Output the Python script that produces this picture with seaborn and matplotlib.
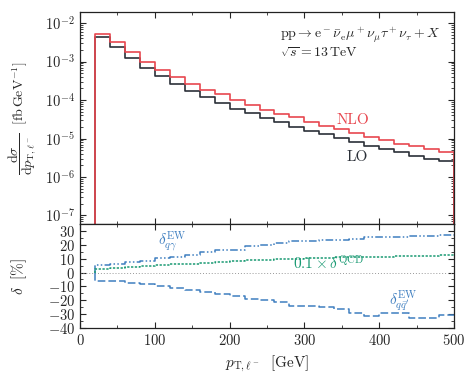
import numpy as np
import matplotlib
matplotlib.use("Agg")
import matplotlib.pyplot as plt
import seaborn as sns
from matplotlib.ticker import MultipleLocator, LogLocator, NullFormatter

# lower bin edges (GeV), 20 GeV bins from 20 to 500
pt_lo_edges = [20, 40, 60, 80, 100, 120, 140, 160, 180, 200, 220, 240,
               260, 280, 300, 320, 340, 360, 380, 400, 420, 440, 460, 480]
pt_max = 500

lo_xs = [4.3e-3, 2.37e-3, 1.26e-3, 7.0e-4, 4.25e-4, 2.67e-4, 1.73e-4, 1.18e-4,
         8.5e-5, 6.0e-5, 4.6e-5, 3.4e-5, 2.65e-5, 2.04e-5, 1.6e-5, 1.28e-5,
         1.05e-5, 8.3e-6, 6.5e-6, 5.2e-6, 4.4e-6, 3.6e-6, 3.0e-6, 2.55e-6]
nlo_xs = [5.2e-3, 3.2e-3, 1.73e-3, 1.0e-3, 6.2e-4, 3.9e-4, 2.67e-4, 1.86e-4,
          1.41e-4, 1.0e-4, 7.4e-5, 5.6e-5, 4.4e-5, 3.56e-5, 2.74e-5, 2.15e-5,
          1.77e-5, 1.39e-5, 1.12e-5, 9.1e-6, 7.4e-6, 6.3e-6, 5.2e-6, 4.6e-6]

d_qgam = [5.3, 6.5, 7.5, 8.5, 10.5, 11.5, 13.0, 14.5, 16.0, 16.5, 18.8, 19.6,
          21.0, 22.5, 22.8, 23.5, 23.8, 24.2, 25.5, 25.6, 25.8, 26.2, 26.5, 27.3]
d_qq = [-6.0, -6.0, -7.7, -8.4, -9.8, -11.0, -12.5, -14.0, -15.5, -17.0, -19.0, -20.0,
        -21.0, -24.2, -24.0, -24.5, -26.3, -29.5, -31.5, -29.0, -29.0, -33.0, -33.0, -30.5]
d_qcd01 = [2.9, 3.6, 4.1, 4.8, 5.3, 6.0, 6.5, 7.2, 7.6, 8.3, 8.7, 9.1,
           9.5, 9.9, 10.3, 10.7, 10.9, 11.1, 11.3, 11.5, 11.7, 11.9, 12.1, 12.3]

sns.set_style("ticks")
plt.rcParams.update({
    "font.family": "serif",
    "font.serif": ["cmr10"],
    "mathtext.fontset": "cm",
    "axes.formatter.use_mathtext": True,
    "axes.unicode_minus": True,
    "font.size": 10.5,
    "xtick.direction": "in",
    "ytick.direction": "in",
    "xtick.top": True,
    "ytick.right": True,
    "axes.edgecolor": "#222222",
    "axes.linewidth": 0.9,
})

red = "#e8474f"
dark = "#2b3038"
blue = "#3f7fc0"
green = "#1a9a73"

fig = plt.figure(figsize=(4.73, 3.74), dpi=100)
ax1 = fig.add_axes([0.169, 0.401, 0.791, 0.567])
ax2 = fig.add_axes([0.169, 0.123, 0.791, 0.278], sharex=ax1)

floor = 1e-9


def hist_path(vals):
    # step outline starting at 0 (empty first bin) and dropping at the end
    x = [0] + pt_lo_edges + [pt_max, pt_max]
    y = [floor] + list(vals) + [vals[-1], floor]
    return x, y


for vals, col in [(lo_xs, dark), (nlo_xs, red)]:
    x, y = hist_path(vals)
    sns.lineplot(x=x, y=y, ax=ax1, drawstyle="steps-post", estimator=None,
                 sort=False, color=col, lw=1.2)

ax1.set_yscale("log")
ax1.set_ylim(6e-8, 1.95e-2)
ax1.set_xlim(0, 500)
ax1.yaxis.set_major_locator(LogLocator(base=10, numticks=12))
ax1.yaxis.set_minor_locator(LogLocator(base=10, subs=np.arange(2, 10), numticks=12))
ax1.yaxis.set_minor_formatter(NullFormatter())
ax1.tick_params(labelbottom=False)
ax1.set_ylabel(r"$\dfrac{\mathrm{d}\sigma}{\mathrm{d}p_{\mathrm{T},\ell^-}}\ \ [\mathrm{fb\,GeV^{-1}}]$",
               fontsize=10)

ax1.text(0.535, 0.89, r"$\mathrm{pp}\to\mathrm{e}^-\bar{\nu}_\mathrm{e}\mu^+\nu_\mu\tau^+\nu_\tau+X$",
         transform=ax1.transAxes, ha="left", va="center", fontsize=10)
ax1.text(0.535, 0.805, r"$\sqrt{s}=13\,\mathrm{TeV}$",
         transform=ax1.transAxes, ha="left", va="center", fontsize=10)
ax1.text(365, 3.1e-5, "NLO", color=red, ha="center", va="center", fontsize=11)
ax1.text(370, 3.2e-6, "LO", color=dark, ha="center", va="center", fontsize=11)


# relative corrections
def delta_path(vals):
    x = [pt_lo_edges[0]] + pt_lo_edges + [pt_max]
    y = [0] + list(vals) + [vals[-1]]
    return x, y


ax2.axhline(0, color="#999999", lw=0.7, ls=(0, (1, 2)))
for vals, col, ls in [(d_qgam, blue, (0, (5, 1.5, 1, 1.5, 1, 1.5))),
                      (d_qq, blue, (0, (5, 2))),
                      (d_qcd01, green, (0, (1.5, 1)))]:
    x, y = delta_path(vals)
    sns.lineplot(x=x, y=y, ax=ax2, drawstyle="steps-post", estimator=None,
                 sort=False, color=col, lw=1.1, linestyle=ls)

ax2.set_ylim(-40, 35)
ax2.set_xlim(0, 500)
ax2.yaxis.set_major_locator(MultipleLocator(10))
ax2.yaxis.set_minor_locator(MultipleLocator(5))
ax1.xaxis.set_major_locator(MultipleLocator(100))
ax1.xaxis.set_minor_locator(MultipleLocator(50))
ax2.set_ylabel(r"$\delta\ \ [\%]$", fontsize=11)
ax2.set_xlabel(r"$p_{\mathrm{T},\ell^-}\ \ [\mathrm{GeV}]$", fontsize=11)

ax2.text(123, 22, r"$\delta^{\mathrm{EW}}_{q\gamma}$", color=blue, ha="center", va="center", fontsize=11)
ax2.text(285, 6.5, r"$0.1\times\delta^{\mathrm{QCD}}$", color=green, ha="left", va="center", fontsize=11)
ax2.text(432, -20.5, r"$\delta^{\mathrm{EW}}_{q\bar{q}'}$", color=blue, ha="center", va="center", fontsize=11)

for ax in (ax1, ax2):
    ax.tick_params(which="major", length=4, width=0.8)
    ax.tick_params(which="minor", length=2.2, width=0.6)

ax1.yaxis.set_label_coords(-0.11, 0.5)
ax2.yaxis.set_label_coords(-0.135, 0.5)

fig.savefig("out.png", dpi=100)
